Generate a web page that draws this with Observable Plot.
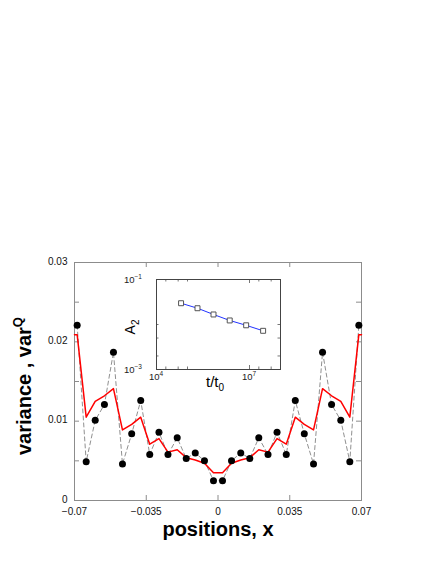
<!DOCTYPE html>
<html><head><meta charset="utf-8">
<script src="https://cdn.jsdelivr.net/npm/d3@7"></script>
<script src="https://cdn.jsdelivr.net/npm/@observablehq/plot@0.6"></script>
<style>
body{margin:0;background:#fff;}
#wrap{position:relative;width:436px;height:564px;font-family:"Liberation Sans",Arial,Helvetica,sans-serif;}
#wrap svg{position:absolute;overflow:visible;}
</style></head><body><div id="wrap"></div>
<script>
// ---- main chart data ----
const positions = [-0.0687,-0.0643,-0.0599,-0.0554,-0.0510,-0.0466,-0.0421,-0.0377,-0.0333,-0.0288,-0.0244,-0.0199,-0.0155,-0.0111,-0.0066,-0.0022,
                   0.0022,0.0066,0.0111,0.0155,0.0199,0.0244,0.0288,0.0333,0.0377,0.0421,0.0466,0.0510,0.0554,0.0599,0.0643,0.0687];
const dotValues = [0.0221,0.0049,0.0101,0.0121,0.0187,0.0046,0.0084,0.0126,0.0058,0.0086,0.0058,0.0079,0.0053,0.0060,0.0050,0.0025,
                   0.0025,0.0050,0.0060,0.0053,0.0079,0.0058,0.0086,0.0058,0.0126,0.0084,0.0046,0.0187,0.0121,0.0101,0.0049,0.0221];
const redPositions = [-0.07,-0.0687,-0.0643,-0.0599,-0.0554,-0.0510,-0.0466,-0.0421,-0.0377,-0.0333,-0.0288,-0.0244,-0.0199,-0.0155,-0.0111,-0.0066,-0.0022,
                      0.0022,0.0066,0.0111,0.0155,0.0199,0.0244,0.0288,0.0333,0.0377,0.0421,0.0466,0.0510,0.0554,0.0599,0.0643,0.0687,0.07];
const redValues = [0.0209,0.0209,0.0105,0.0125,0.0132,0.0141,0.0089,0.0096,0.0105,0.0071,0.0078,0.0061,0.0064,0.0054,0.0051,0.0047,0.0035,
                   0.0035,0.0047,0.0051,0.0054,0.0064,0.0061,0.0078,0.0071,0.0105,0.0096,0.0089,0.0141,0.0132,0.0125,0.0105,0.0209,0.0209];
const xTicks = [-0.07,-0.035,0,0.035,0.07];
const xTickLabels = ["\u22120.07","\u22120.035","0","0.035","0.07"];
const yTicks = [0,0.01,0.02,0.03];
const yTickLabels = ["0","0.01","0.02","0.03"];
const yMinorTicks = [0.005,0.015,0.025];

// ---- inset data ----
const insetTime = [6.2e4,2.1e5,6.9e5,2.3e6,7.8e6,2.75e7];
const insetA2 = [0.0297,0.0230,0.0167,0.0123,0.0096,0.00724];
const insetXMajor = [1e4,1e7];
const insetXMinor = [2e4,5e4,1e5,2e7,5e7];
const insetYMajor = [1e-3,1e-1];
const insetYMinor = [2e-3,5e-3,1e-2];
const insetXLabels = [["10","4"],["10","7"]];
const insetYLabels = [["10","\u22123"],["10","\u22121"]];

const W = 436, H = 564, mL = 74, mR = 75, mT = 262, mB = 64;
const iw = W - mL - mR, ih = H - mT - mB;

const pts = positions.map((x,i)=>({x, y: dotValues[i]}));
const red = redPositions.map((x,i)=>({x, y: redValues[i]}));
const frameGray = "#8c8c8c";

const main = Plot.plot({
  width: W, height: H, marginLeft: mL, marginRight: mR, marginTop: mT, marginBottom: mB,
  style: {background: "transparent", fontFamily: "Liberation Sans, Arial, sans-serif"},
  x: {domain: [-0.07, 0.07], axis: null},
  y: {domain: [0, 0.03], axis: null},
  marks: [
    Plot.ruleX(xTicks, {x: d=>d, insetTop: ih-5, stroke: frameGray}),
    Plot.ruleX(xTicks, {x: d=>d, insetBottom: ih-5, stroke: frameGray}),
    Plot.ruleY([...yTicks, ...yMinorTicks], {y: d=>d, insetRight: iw-5, stroke: frameGray}),
    Plot.ruleY([...yTicks, ...yMinorTicks], {y: d=>d, insetLeft: iw-5, stroke: frameGray}),
    Plot.frame({stroke: frameGray}),
    Plot.line(pts, {x: "x", y: "y", stroke: "#909090", strokeWidth: 1, strokeDasharray: "4,3"}),
    Plot.line(red, {x: "x", y: "y", stroke: "#ff0000", strokeWidth: 1.5}),
    Plot.dot(pts, {x: "x", y: "y", r: 3.5, fill: "black", stroke: "none"}),
    Plot.text(xTicks, {x: d=>d, text: (d,i)=>xTickLabels[i], frameAnchor: "bottom", lineAnchor: "top", dy: 7, fontSize: 10, fill: "#111"}),
    Plot.text(yTicks, {y: d=>d, text: (d,i)=>yTickLabels[i], frameAnchor: "left", textAnchor: "end", dx: -7, dy: -1, fontSize: 10, fill: "#111"})
  ]
});
document.getElementById("wrap").appendChild(main);
main.style.left = "0px"; main.style.top = "0px";

// rich text helper
function richText(svg, x, y, parts, {size=12, weight="normal", anchor="middle", rotate=0, fill="#000"} = {}) {
  const t = d3.select(svg).append("text")
    .attr("transform", `translate(${x},${y}) rotate(${rotate})`)
    .attr("text-anchor", anchor)
    .attr("font-family", "Liberation Sans, Arial, sans-serif")
    .attr("font-size", size).attr("font-weight", weight).attr("fill", fill);
  let shift = 0;
  for (const p of parts) {
    const dy = (p.dy || 0) - shift;
    t.append("tspan").attr("dy", dy).attr("font-size", p.size || size).text(p.t);
    shift = p.dy || 0;
  }
  return t;
}

richText(main, 218, 536, [{t: "positions, x"}], {size: 20, weight: "bold"});
richText(main, 31, 386, [{t: "variance , var"}, {t: "Q", size: 13, dy: -9}], {size: 20, weight: "bold", rotate: -90});

// ---- inset ----
const iL = 40, iR = 5, iT = 8, iB = 30, iW = 124, iH = 90;
const ins = insetTime.map((t,i)=>({t, a: insetA2[i]}));
const insetGray = "#444";
const inset = Plot.plot({
  width: iL+iW+iR, height: iT+iH+iB, marginLeft: iL, marginRight: iR, marginTop: iT, marginBottom: iB,
  style: {background: "transparent", overflow: "visible"},
  x: {type: "log", domain: [1e4, 1e8], axis: null},
  y: {type: "log", domain: [1e-3, 1e-1], axis: null},
  marks: [
    Plot.ruleX(insetXMajor, {x: d=>d, insetTop: iH-4, stroke: "#777"}),
    Plot.ruleX(insetXMajor, {x: d=>d, insetBottom: iH-4, stroke: "#777"}),
    Plot.ruleX(insetXMinor, {x: d=>d, insetTop: iH-2.5, stroke: "#777"}),
    Plot.ruleX(insetXMinor, {x: d=>d, insetBottom: iH-2.5, stroke: "#777"}),
    Plot.ruleY(insetYMajor, {y: d=>d, insetRight: iW-4, stroke: "#777"}),
    Plot.ruleY(insetYMajor, {y: d=>d, insetLeft: iW-4, stroke: "#777"}),
    Plot.ruleY(insetYMinor, {y: d=>d, insetRight: iW-2.5, stroke: "#777"}),
    Plot.ruleY(insetYMinor, {y: d=>d, insetLeft: iW-2.5, stroke: "#777"}),
    Plot.frame({stroke: insetGray}),
    Plot.line(ins, {x: "t", y: "a", stroke: "#2233ff", strokeWidth: 1}),
    Plot.dot(ins, {x: "t", y: "a", symbol: "square", r: 2.8, fill: "white", stroke: "#555", strokeWidth: 1})
  ]
});
document.getElementById("wrap").appendChild(inset);
inset.style.left = (156 - iL) + "px"; inset.style.top = (279 - iT) + "px";

const sx = inset.scale("x"), sy = inset.scale("y");
insetXMajor.forEach((v,i)=>{
  richText(inset, sx.apply(v), iT+iH+11, [{t: insetXLabels[i][0]}, {t: insetXLabels[i][1], size: 6.5, dy: -4}], {size: 9.5, fill: "#222"});
});
insetYMajor.forEach((v,i)=>{
  richText(inset, 26, sy.apply(v)+3.5, [{t: insetYLabels[i][0]}, {t: insetYLabels[i][1], size: 6.5, dy: -4}], {size: 9.5, anchor: "end", fill: "#222"});
});
richText(inset, 99, iT+iH+18, [{t: "t/t"}, {t: "0", size: 10, dy: 4}], {size: 15});
richText(inset, 19, 56, [{t: "A"}, {t: "2", size: 10, dy: 4}], {size: 14, rotate: -90});
</script></body></html>
